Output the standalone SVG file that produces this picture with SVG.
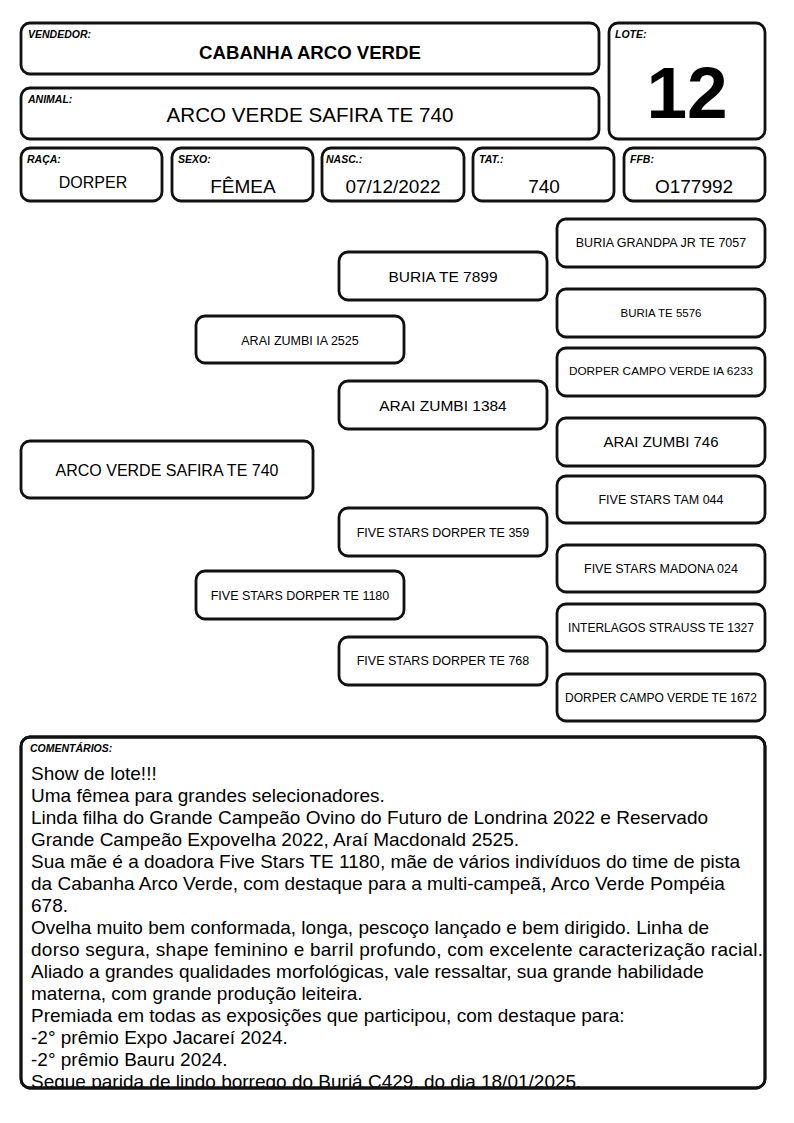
<svg xmlns="http://www.w3.org/2000/svg" width="794" height="1123" viewBox="0 0 794 1123">
<style>
.box{fill:#fff;stroke:#111;stroke-width:2.8}
text{font-family:"Liberation Sans",Arial,sans-serif;fill:#000}
.lbl{font-size:10.5px;font-weight:bold;font-style:italic}
.c{text-anchor:middle}
.p12{font-size:12.5px}
.p15{font-size:15.5px}
.com{font-size:19px}
</style>
<defs>
<clipPath id="comclip"><rect x="22.5" y="738.5" width="741" height="349"/></clipPath>
</defs>
<rect width="794" height="1123" fill="#fff"/>

<g id="vendedor">
<rect class="box" x="21" y="23" width="578" height="51" rx="9"/>
<text class="lbl" x="28" y="38">VENDEDOR:</text>
<text class="c" x="310" y="59" style="font-size:18.6px;font-weight:bold">CABANHA ARCO VERDE</text>
</g>
<g id="lote">
<rect class="box" x="609" y="23" width="156" height="116" rx="9"/>
<text class="lbl" x="615" y="38">LOTE:</text>
<text class="c" x="687" y="118" style="font-size:73px;font-weight:bold">12</text>
</g>
<g id="animal">
<rect class="box" x="21" y="88" width="578" height="51" rx="9"/>
<text class="lbl" x="28" y="103">ANIMAL:</text>
<text class="c" x="310" y="122" style="font-size:20.6px">ARCO VERDE SAFIRA TE 740</text>
</g>
<g id="raca">
<rect class="box" x="21" y="148" width="141" height="53" rx="9"/>
<text class="lbl" x="27" y="163">RAÇA:</text>
<text class="c" x="93" y="188" style="font-size:16px">DORPER</text>
</g>
<g id="sexo">
<rect class="box" x="172" y="148" width="141" height="53" rx="9"/>
<text class="lbl" x="178" y="163">SEXO:</text>
<text class="c" x="243" y="193" style="font-size:19px">FÊMEA</text>
</g>
<g id="nasc">
<rect class="box" x="322" y="148" width="142" height="53" rx="9"/>
<text class="lbl" x="326" y="163">NASC.:</text>
<text class="c" x="393" y="193" style="font-size:19px">07/12/2022</text>
</g>
<g id="tat">
<rect class="box" x="473" y="148" width="141" height="53" rx="9"/>
<text class="lbl" x="479" y="163">TAT.:</text>
<text class="c" x="544" y="193" style="font-size:19px">740</text>
</g>
<g id="ffb">
<rect class="box" x="624" y="148" width="141" height="53" rx="9"/>
<text class="lbl" x="630" y="163">FFB:</text>
<text class="c" x="694" y="193" style="font-size:19px">O177992</text>
</g>

<g id="connectors"></g>

<g id="n-animal">
<rect class="box" x="21" y="441" width="292" height="57" rx="9"/>
<text class="c" x="167" y="476" style="font-size:16px">ARCO VERDE SAFIRA TE 740</text>
</g>
<g id="n-pai">
<rect class="box" x="196" y="316" width="208" height="47" rx="9"/>
<text class="c p12" x="300" y="345">ARAI ZUMBI IA 2525</text>
</g>
<g id="n-mae">
<rect class="box" x="196" y="571" width="208" height="48" rx="9"/>
<text class="c p12" x="300" y="600">FIVE STARS DORPER TE 1180</text>
</g>
<g id="n-avo1">
<rect class="box" x="339" y="252" width="208" height="48" rx="9"/>
<text class="c p15" x="443" y="282">BURIA TE 7899</text>
</g>
<g id="n-avo2">
<rect class="box" x="339" y="381" width="208" height="48" rx="9"/>
<text class="c p15" x="443" y="411">ARAI ZUMBI 1384</text>
</g>
<g id="n-avo3">
<rect class="box" x="339" y="508" width="208" height="48" rx="9"/>
<text class="c p12" x="443" y="537">FIVE STARS DORPER TE 359</text>
</g>
<g id="n-avo4">
<rect class="box" x="339" y="637" width="208" height="48" rx="9"/>
<text class="c p12" x="443" y="665">FIVE STARS DORPER TE 768</text>
</g>
<g id="n-b1">
<rect class="box" x="557" y="219" width="208" height="48" rx="9"/>
<text class="c p12" x="661" y="247">BURIA GRANDPA JR TE 7057</text>
</g>
<g id="n-b2">
<rect class="box" x="557" y="289" width="208" height="48" rx="9"/>
<text class="c" x="661" y="317" style="font-size:11.5px">BURIA TE 5576</text>
</g>
<g id="n-b3">
<rect class="box" x="557" y="348" width="208" height="48" rx="9"/>
<text class="c" x="661" y="375" style="font-size:11.8px">DORPER CAMPO VERDE IA 6233</text>
</g>
<g id="n-b4">
<rect class="box" x="557" y="418" width="208" height="48" rx="9"/>
<text class="c" x="661" y="447" style="font-size:15px">ARAI ZUMBI 746</text>
</g>
<g id="n-b5">
<rect class="box" x="557" y="476" width="208" height="47" rx="9"/>
<text class="c p12" x="661" y="504">FIVE STARS TAM 044</text>
</g>
<g id="n-b6">
<rect class="box" x="557" y="545" width="208" height="47" rx="9"/>
<text class="c p12" x="661" y="573">FIVE STARS MADONA 024</text>
</g>
<g id="n-b7">
<rect class="box" x="557" y="604" width="208" height="47" rx="9"/>
<text class="c" x="661" y="632" style="font-size:12px">INTERLAGOS STRAUSS TE 1327</text>
</g>
<g id="n-b8">
<rect class="box" x="557" y="674" width="208" height="47" rx="9"/>
<text class="c" x="661" y="702" style="font-size:12px">DORPER CAMPO VERDE TE 1672</text>
</g>

<g id="comentarios">
<rect class="box" x="21" y="737" width="744" height="351" rx="9"/>
<text class="lbl" x="30" y="752">COMENTÁRIOS:</text>
<g clip-path="url(#comclip)">
<text class="com" x="31" y="780">Show de lote!!!</text>
<text class="com" x="31" y="802">Uma fêmea para grandes selecionadores.</text>
<text class="com" x="31" y="824">Linda filha do Grande Campeão Ovino do Futuro de Londrina 2022 e Reservado</text>
<text class="com" x="31" y="846">Grande Campeão Expovelha 2022, Araí Macdonald 2525.</text>
<text class="com" x="31" y="868">Sua mãe é a doadora Five Stars TE 1180, mãe de vários indivíduos do time de pista</text>
<text class="com" x="31" y="890">da Cabanha Arco Verde, com destaque para a multi-campeã, Arco Verde Pompéia</text>
<text class="com" x="31" y="912">678.</text>
<text class="com" x="31" y="934">Ovelha muito bem conformada, longa, pescoço lançado e bem dirigido. Linha de</text>
<text class="com" x="31" y="956" textLength="732" lengthAdjust="spacing">dorso segura, shape feminino e barril profundo, com excelente caracterização racial.</text>
<text class="com" x="31" y="978">Aliado a grandes qualidades morfológicas, vale ressaltar, sua grande habilidade</text>
<text class="com" x="31" y="1000">materna, com grande produção leiteira.</text>
<text class="com" x="31" y="1022">Premiada em todas as exposições que participou, com destaque para:</text>
<text class="com" x="31" y="1044">-2° prêmio Expo Jacareí 2024.</text>
<text class="com" x="31" y="1066">-2° prêmio Bauru 2024.</text>
<text class="com" x="31" y="1088">Segue parida de lindo borrego do Buriá C429, do dia 18/01/2025.</text>
</g>
<rect x="21" y="737" width="744" height="351" rx="9" fill="none" stroke="#111" stroke-width="2.8"/>
</g>
</svg>
